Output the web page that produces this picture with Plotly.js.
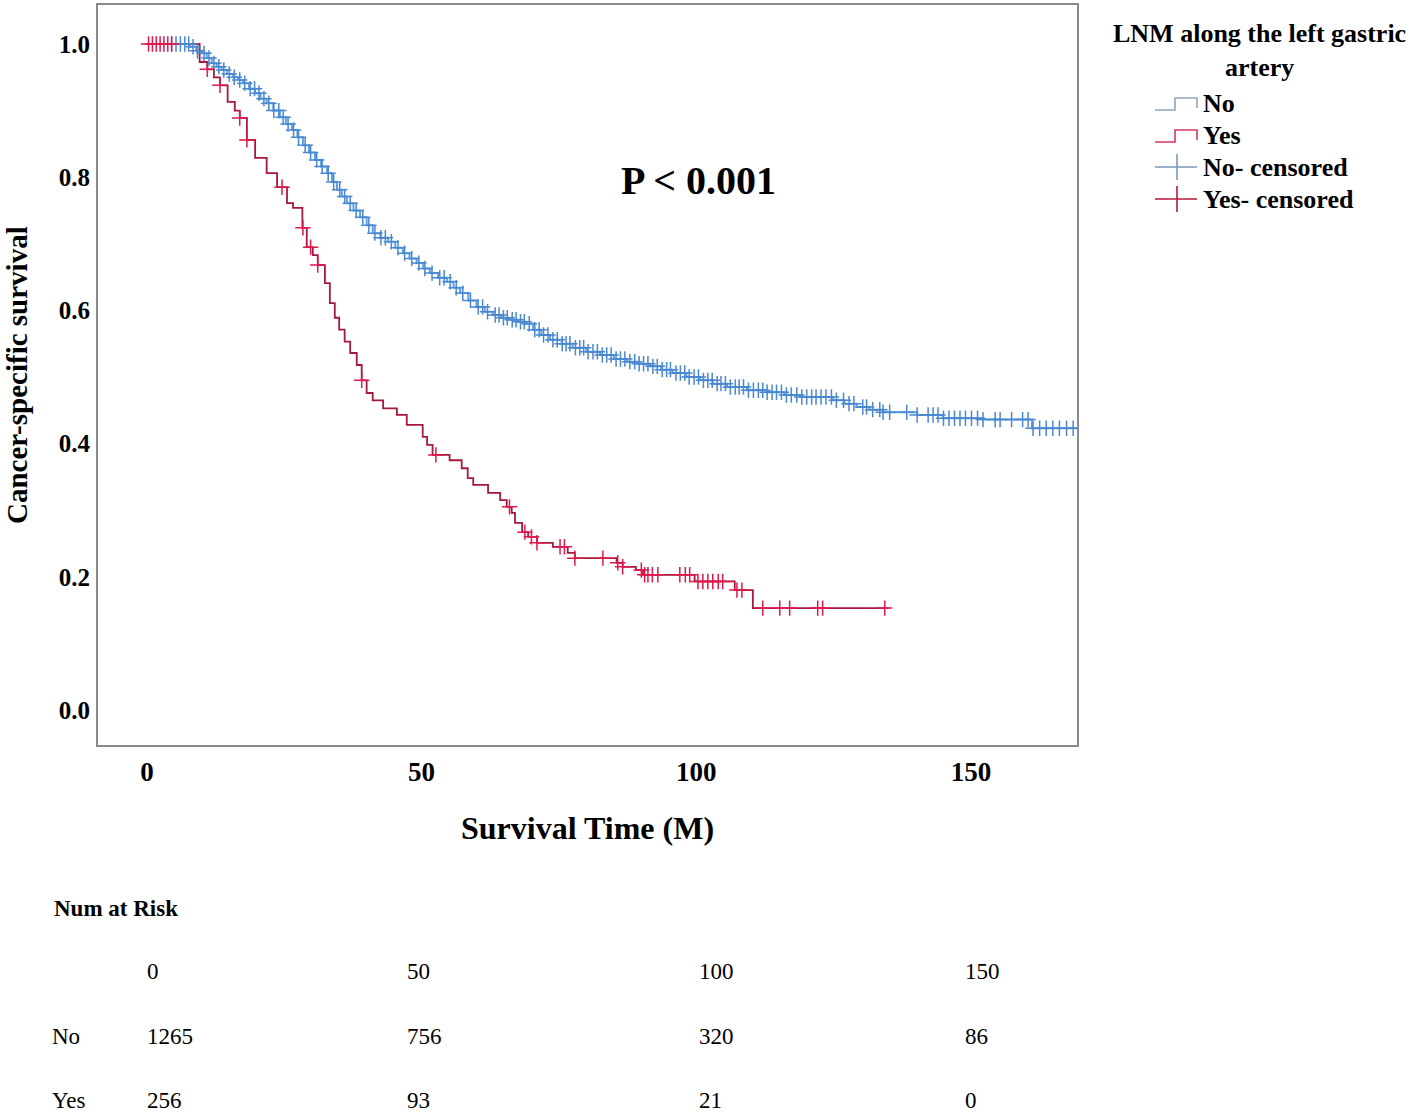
<!DOCTYPE html>
<html>
<head>
<meta charset="utf-8">
<script src="https://cdn.plot.ly/plotly-3.0.1.min.js"></script>
<style>html,body{margin:0;padding:0;background:#fff;}#chart{width:1418px;height:1114px;}</style>
</head>
<body>
<div id="chart"></div>
<script>
// ---- Data ----
const noTimes = [0, 7.8, 9.0, 10.0, 10.9, 11.8, 12.7, 13.6, 14.6, 15.7, 16.6, 17.5, 18.6, 19.7, 20.7, 21.8, 23.0, 24.2, 25.3, 26.4, 27.4, 28.4, 29.5, 30.6, 31.7, 32.8, 33.7, 34.6, 35.5, 36.4, 37.6, 38.8, 40.0, 41.1, 42.5, 43.9, 45.2, 46.6, 47.8, 49.1, 50.3, 51.5, 53.0, 54.6, 55.8, 57.0, 58.5, 60.0, 61.5, 63.0, 64.5, 66.0, 67.5, 69.0, 70.3, 71.8, 73.4, 75.5, 77.5, 80.0, 82.5, 85.0, 87.4, 89.5, 91.6, 93.6, 95.7, 98.2, 100.7, 103.0, 105.6, 109.2, 112.8, 116.0, 118.9, 124.9, 127.0, 129.2, 131.5, 134.0, 140.2, 144.9, 152.0, 161.1, 169.5];
const noSurv  = [1.0, 0.996, 0.990, 0.986, 0.979, 0.971, 0.966, 0.961, 0.955, 0.950, 0.946, 0.941, 0.933, 0.926, 0.918, 0.911, 0.900, 0.890, 0.880, 0.871, 0.860, 0.848, 0.837, 0.826, 0.816, 0.806, 0.793, 0.781, 0.771, 0.761, 0.750, 0.740, 0.728, 0.716, 0.709, 0.703, 0.694, 0.686, 0.678, 0.671, 0.663, 0.656, 0.649, 0.643, 0.634, 0.626, 0.615, 0.605, 0.598, 0.593, 0.589, 0.586, 0.583, 0.580, 0.571, 0.563, 0.556, 0.550, 0.544, 0.538, 0.533, 0.527, 0.523, 0.520, 0.516, 0.511, 0.506, 0.500, 0.495, 0.490, 0.485, 0.480, 0.477, 0.473, 0.470, 0.465, 0.460, 0.455, 0.451, 0.447, 0.443, 0.438, 0.436, 0.423, 0.423];

const yesTimes = [0, 9.6, 11.0, 12.2, 13.3, 14.7, 16.0, 16.9, 18.2, 19.7, 21.8, 23.7, 25.5, 26.6, 28.3, 29.1, 30.2, 31.1, 32.4, 33.3, 34.2, 35.0, 36.0, 37.0, 38.2, 39.1, 40.0, 41.1, 43.0, 45.5, 47.3, 50.2, 51.0, 52.0, 55.1, 57.3, 58.4, 59.4, 62.1, 64.3, 65.5, 66.4, 67.0, 68.3, 69.4, 71.0, 73.9, 76.6, 77.9, 85.5, 86.6, 89.0, 90.3, 99.7, 107.0, 110.3, 135.0];
const yesSurv  = [1.0, 0.973, 0.962, 0.950, 0.938, 0.913, 0.900, 0.889, 0.856, 0.829, 0.806, 0.785, 0.761, 0.754, 0.724, 0.695, 0.683, 0.668, 0.641, 0.611, 0.589, 0.571, 0.553, 0.536, 0.518, 0.495, 0.476, 0.465, 0.453, 0.443, 0.428, 0.410, 0.398, 0.383, 0.375, 0.363, 0.348, 0.338, 0.326, 0.315, 0.305, 0.296, 0.281, 0.267, 0.260, 0.251, 0.245, 0.236, 0.228, 0.221, 0.215, 0.210, 0.203, 0.193, 0.180, 0.153, 0.153];

const noCensored = [4.5, 5.3, 6.1, 6.9, 7.6, 8.4, 9.2, 10.4, 11.3, 12.2, 13.1, 14.0, 15.0, 15.9, 16.9, 17.8, 18.8, 19.6, 20.4, 21.3, 22.2, 23.1, 24.0, 24.8, 25.7, 26.7, 27.6, 28.8, 29.8, 30.9, 31.9, 33.0, 34.0, 35.1, 36.0, 37.0, 38.1, 39.3, 40.4, 41.5, 42.6, 43.4, 44.5, 45.7, 46.9, 48.2, 49.5, 50.6, 51.9, 53.3, 54.1, 55.2, 56.3, 57.5, 58.9, 60.3, 61.1, 62.0, 63.4, 64.1, 64.9, 65.6, 66.5, 67.2, 68.0, 68.7, 69.6, 70.6, 71.4, 72.2, 73.0, 73.9, 74.7, 75.6, 76.3, 77.0, 78.0, 78.8, 79.5, 80.3, 81.2, 82.0, 82.9, 83.7, 84.5, 85.4, 86.2, 87.0, 87.9, 88.8, 89.6, 90.4, 91.2, 92.1, 92.9, 93.8, 94.6, 95.3, 96.3, 97.1, 97.9, 98.7, 99.6, 100.4, 101.3, 102.1, 102.9, 103.8, 104.5, 105.3, 106.2, 107.1, 107.8, 108.6, 109.5, 110.4, 111.3, 112.1, 112.9, 113.8, 114.6, 115.5, 116.4, 117.3, 118.3, 119.2, 120.1, 121.0, 121.8, 122.7, 123.6, 124.6, 125.5, 126.8, 127.8, 128.7, 130.3, 131.0, 132.1, 133.4, 134.0, 135.2, 138.3, 140.2, 142.2, 143.1, 144.0, 145.0, 146.0, 147.0, 148.0, 149.0, 150.1, 151.2, 152.2, 154.4, 155.3, 157.4, 159.4, 160.4, 161.3, 162.5, 163.7, 164.9, 166.1, 167.4, 168.6];
const yesCensored = [0.3, 1.0, 1.7, 2.4, 3.1, 3.8, 4.5, 11.0, 13.3, 16.9, 18.2, 24.6, 28.4, 29.8, 31.1, 39.1, 52.6, 66.0, 68.8, 70.0, 71.0, 75.2, 76.0, 77.9, 83.0, 85.7, 86.6, 90.0, 90.6, 91.2, 92.0, 93.0, 97.0, 98.0, 98.8, 100.3, 101.2, 102.1, 103.0, 104.0, 104.8, 107.4, 108.3, 112.1, 115.2, 117.0, 122.1, 123.0, 134.3];

const riskTimes = [0, 50, 100, 150];
const riskNo = [1265, 756, 320, 86];
const riskYes = [256, 93, 21, 0];
const groupNames = ['No', 'Yes'];
const xTicks = [0, 50, 100, 150];
const yTicks = [0, 0.2, 0.4, 0.6, 0.8, 1.0];

// ---- helpers ----
function survAt(times, vals, t) {
  let s = vals[0];
  for (let i = 0; i < times.length; i++) { if (times[i] <= t) s = vals[i]; else break; }
  return s;
}
const W = 1418, H = 1114, L = 98, R = 1077, T = 5, B = 745;
const px = v => (v - L) / (R - L);
const py = v => (B - v) / (B - T);
const FONT = '"Liberation Serif", "Times New Roman", serif';

const blueLine = '#5d9fe6', blueMark = '#4a88d0';
const redLine = '#a51a3a', redMark = '#e0184e';

const traces = [
  {x: noTimes, y: noSurv, mode: 'lines', line: {shape: 'hv', color: blueLine, width: 2}, name: 'No', showlegend: false, hoverinfo: 'skip'},
  {x: yesTimes, y: yesSurv, mode: 'lines', line: {shape: 'hv', color: redLine, width: 1.8}, name: 'Yes', showlegend: false, hoverinfo: 'skip'},
  {x: noCensored, y: noCensored.map(t => survAt(noTimes, noSurv, t)), mode: 'markers', name: 'No- censored', showlegend: false,
   marker: {symbol: 'cross-thin', size: 11, line: {color: blueMark, width: 1.5}}},
  {x: yesCensored, y: yesCensored.map(t => survAt(yesTimes, yesSurv, t)), mode: 'markers', name: 'Yes- censored', showlegend: false,
   marker: {symbol: 'cross-thin', size: 11, line: {color: redMark, width: 1.5}}}
];

const annotations = [];
const shapes = [];

// axis titles
annotations.push({xref: 'paper', yref: 'paper', x: 0.5, y: py(828), text: 'Survival Time (M)', showarrow: false,
  xanchor: 'center', yanchor: 'middle', font: {family: FONT, size: 32, color: '#000', weight: 'bold'}});
annotations.push({xref: 'paper', yref: 'paper', x: px(17), y: 0.5, text: 'Cancer-specific survival', showarrow: false,
  textangle: -90, xanchor: 'center', yanchor: 'middle', font: {family: FONT, size: 29, color: '#000', weight: 'bold'}});
// p-value
annotations.push({xref: 'paper', yref: 'paper', x: px(698), y: py(180), text: 'P < 0.001', showarrow: false,
  xanchor: 'center', yanchor: 'middle', font: {family: FONT, size: 40, color: '#000', weight: 'bold'}});

// custom legend
annotations.push({xref: 'paper', yref: 'paper', x: px(1259), y: py(50), text: 'LNM along the left gastric<br>artery', showarrow: false,
  xanchor: 'center', yanchor: 'middle', align: 'center', font: {family: FONT, size: 26, color: '#000', weight: 'bold'}});
const legItems = [
  {label: 'No', y: 104, kind: 'step', color: '#8ea5c0'},
  {label: 'Yes', y: 136, kind: 'step', color: '#d9365e'},
  {label: 'No- censored', y: 167, kind: 'cross', color: '#7a98bd'},
  {label: 'Yes- censored', y: 199, kind: 'cross', color: '#b8163e'}
];
legItems.forEach(it => {
  annotations.push({xref: 'paper', yref: 'paper', x: px(1201), y: py(it.y), text: it.label, showarrow: false,
    xanchor: 'left', yanchor: 'middle', font: {family: FONT, size: 26, color: '#000', weight: 'bold'}});
  if (it.kind === 'step') {
    const lo = it.y + 6, hi = it.y - 6;
    const path = `M ${px(1155)} ${py(lo)} L ${px(1175)} ${py(lo)} L ${px(1175)} ${py(hi)} L ${px(1197)} ${py(hi)} L ${px(1197)} ${py(lo - 2)}`;
    shapes.push({type: 'path', xref: 'paper', yref: 'paper', path: path, line: {color: it.color, width: 1.6}});
  } else {
    shapes.push({type: 'line', xref: 'paper', yref: 'paper', x0: px(1155), x1: px(1197), y0: py(it.y), y1: py(it.y), line: {color: it.color, width: 1.6}});
    shapes.push({type: 'line', xref: 'paper', yref: 'paper', x0: px(1177), x1: px(1177), y0: py(it.y - 13), y1: py(it.y + 13), line: {color: it.color, width: 1.6}});
  }
});

// number at risk table
annotations.push({xref: 'paper', yref: 'paper', x: px(52), y: py(908), text: 'Num at Risk', showarrow: false,
  xanchor: 'left', yanchor: 'middle', font: {family: FONT, size: 23, color: '#000', weight: 'bold'}});
const rowY = [971, 1036, 1100];
const colShift = [0, -15, 3, -6];
annotations.push({xref: 'paper', yref: 'paper', x: px(50), y: py(rowY[1]), text: groupNames[0], showarrow: false,
  xanchor: 'left', yanchor: 'middle', font: {family: FONT, size: 23, color: '#000'}});
annotations.push({xref: 'paper', yref: 'paper', x: px(50), y: py(rowY[2]), text: groupNames[1], showarrow: false,
  xanchor: 'left', yanchor: 'middle', font: {family: FONT, size: 23, color: '#000'}});
riskTimes.forEach((t, i) => {
  [[String(t), rowY[0]], [String(riskNo[i]), rowY[1]], [String(riskYes[i]), rowY[2]]].forEach(([txt, yy]) => {
    annotations.push({xref: 'x', yref: 'paper', x: t, y: py(yy), text: txt, showarrow: false, xshift: colShift[i] - 2,
      xanchor: 'left', yanchor: 'middle', font: {family: FONT, size: 23, color: '#000'}});
  });
});

const layout = {
  width: W, height: H,
  margin: {l: L, r: W - R, t: T, b: H - B, pad: 0},
  paper_bgcolor: '#fff', plot_bgcolor: '#fff',
  showlegend: false,
  xaxis: {range: [-8.9, 169.3], tickvals: xTicks, ticks: '', showgrid: false, zeroline: false,
    showline: true, mirror: true, linecolor: '#8a8a8a', linewidth: 2, ticklabelstandoff: 2,
    tickfont: {family: FONT, size: 27, color: '#000', weight: 'bold'}},
  yaxis: {range: [-0.0526, 1.0586], tickvals: yTicks, tickformat: '.1f', ticks: '', showgrid: false, zeroline: false,
    showline: true, mirror: true, linecolor: '#8a8a8a', linewidth: 2, ticklabelstandoff: 1,
    tickfont: {family: FONT, size: 25, color: '#000', weight: 'bold'}},
  annotations: annotations,
  shapes: shapes
};

Plotly.newPlot('chart', traces, layout, {displayModeBar: false, staticPlot: true});
</script>
</body>
</html>
